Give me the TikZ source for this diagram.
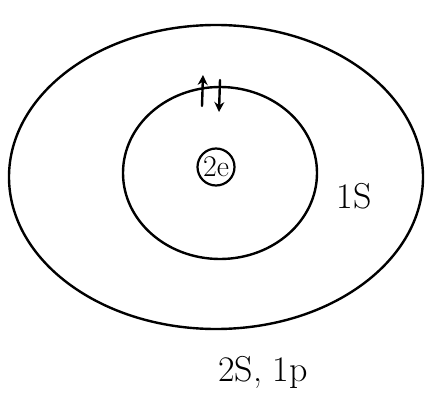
\documentclass[tikz,border=0pt]{standalone}
\usetikzlibrary{arrows.meta}
\begin{document}
\begin{tikzpicture}[x=1pt,y=-1pt,
  stroke/.style={line width=2.4pt,line cap=round,line join=round},
  lbl/.style={font=\fontsize{36}{38}\selectfont}]
\useasboundingbox (0,0) rectangle (428,398);
% outer shell
\draw[stroke] (216,177) ellipse [x radius=207, y radius=152];
% inner shell
\draw[stroke] (220,173) ellipse [x radius=97, y radius=86];
% nucleus
\node[draw,circle,line width=2.2pt,minimum size=37pt,inner sep=0pt,font=\fontsize{30}{32}\selectfont] (n) at (216,167) {2e};
% spins
\coordinate (u1) at (202,106);
\coordinate (u2) at (203,75);
\coordinate (d1) at (220,80);
\coordinate (d2) at (219,112);
\draw[stroke,-{Stealth[length=10pt,width=10pt]}] (u1) -- (u2);
\draw[stroke,-{Stealth[length=10pt,width=10pt]}] (d1) -- (d2);
\node[lbl] (s1) at (354,196) {1S};
\node[lbl] (s2) at (263,372) {2S, 1p};
\end{tikzpicture}
\end{document}
